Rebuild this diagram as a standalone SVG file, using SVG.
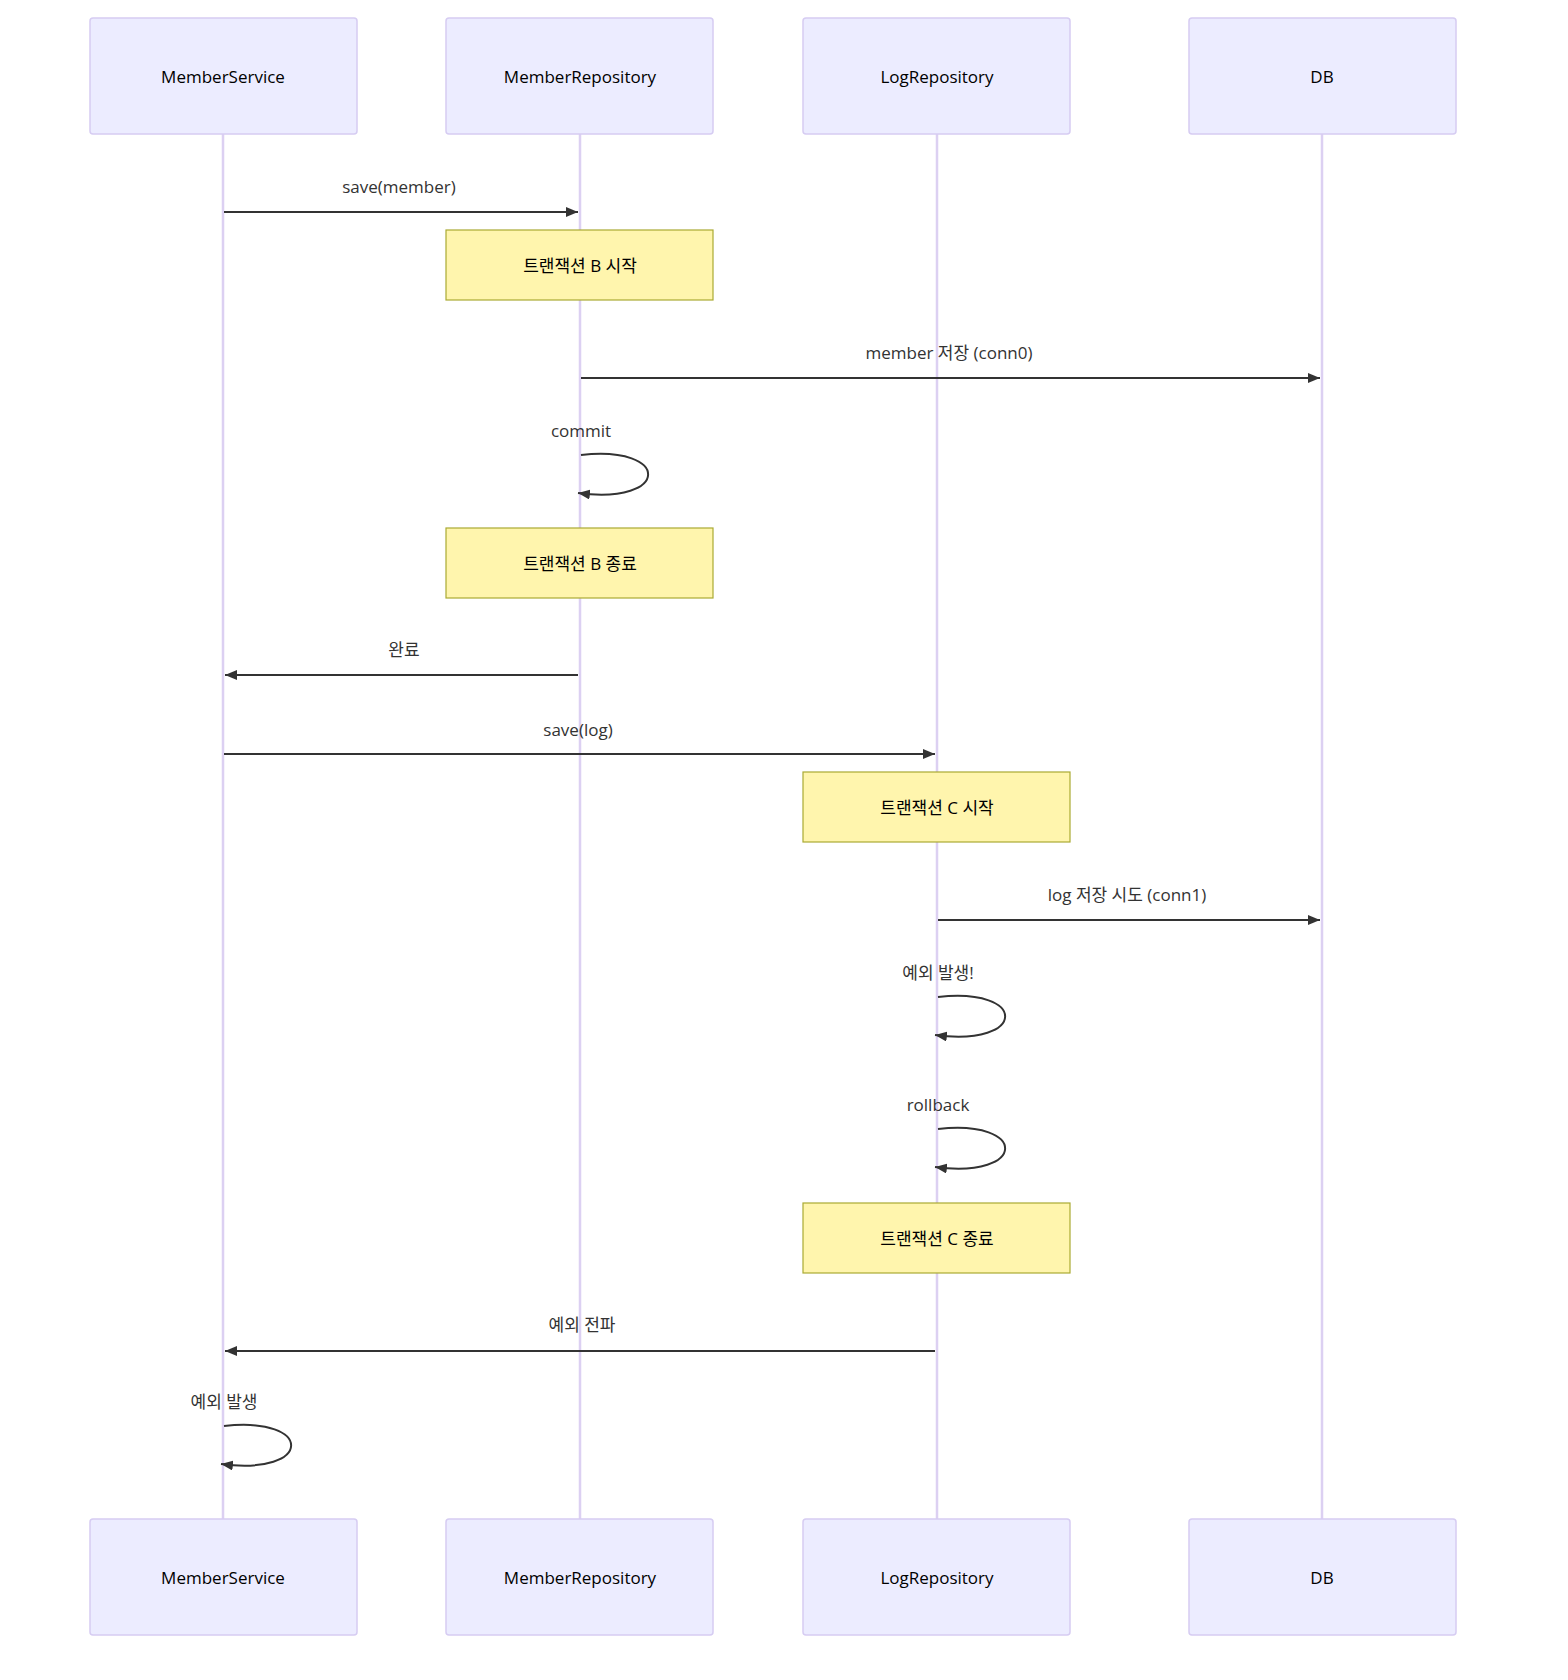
<svg xmlns="http://www.w3.org/2000/svg" width="1568" height="1680" viewBox="0 0 1568 1680">
<style>
.actor{fill:#ECECFF;stroke:#D6CCF2;stroke-width:1.5}
.atext{font-family:"Open Sans","Liberation Sans",sans-serif;font-size:17px;fill:#000;text-anchor:middle;dominant-baseline:central}
.life{stroke:#DCD0F2;stroke-width:2.5}
.msg{stroke:#333;stroke-width:2;fill:none}
.mtext{font-family:"Open Sans","Noto Sans CJK KR",sans-serif;font-size:17px;fill:#333;text-anchor:middle}
.note{fill:#FFF5AD;stroke:#AAAA33;stroke-width:1.2}
.ntext{font-family:"Open Sans","Noto Sans CJK KR",sans-serif;font-size:17px;fill:#000;text-anchor:middle;dominant-baseline:central}
</style>
<defs>
<marker id="ah" viewBox="0 0 12 10" refX="12" refY="5" markerWidth="12" markerHeight="10" orient="auto" markerUnits="userSpaceOnUse"><path d="M0,0 L12,5 L0,10 z" fill="#333"/></marker>
</defs>
<g id="lifelines">
<line class="life" x1="223" y1="133" x2="223" y2="1520"/>
<line class="life" x1="580" y1="133" x2="580" y2="1520"/>
<line class="life" x1="937" y1="133" x2="937" y2="1520"/>
<line class="life" x1="1322" y1="133" x2="1322" y2="1520"/>
</g>
<g id="actor-MemberService-top"><rect class="actor" x="90" y="18" width="267" height="116" rx="3"/><text class="atext" x="223" y="76">MemberService</text></g>
<g id="actor-MemberRepository-top"><rect class="actor" x="446" y="18" width="267" height="116" rx="3"/><text class="atext" x="580" y="76">MemberRepository</text></g>
<g id="actor-LogRepository-top"><rect class="actor" x="803" y="18" width="267" height="116" rx="3"/><text class="atext" x="937" y="76">LogRepository</text></g>
<g id="actor-DB-top"><rect class="actor" x="1189" y="18" width="267" height="116" rx="3"/><text class="atext" x="1322" y="76">DB</text></g>
<g id="actor-MemberService-bottom"><rect class="actor" x="90" y="1519" width="267" height="116" rx="3"/><text class="atext" x="223" y="1577">MemberService</text></g>
<g id="actor-MemberRepository-bottom"><rect class="actor" x="446" y="1519" width="267" height="116" rx="3"/><text class="atext" x="580" y="1577">MemberRepository</text></g>
<g id="actor-LogRepository-bottom"><rect class="actor" x="803" y="1519" width="267" height="116" rx="3"/><text class="atext" x="937" y="1577">LogRepository</text></g>
<g id="actor-DB-bottom"><rect class="actor" x="1189" y="1519" width="267" height="116" rx="3"/><text class="atext" x="1322" y="1577">DB</text></g>
<g id="notes">
<g id="note1"><rect class="note" x="446" y="230" width="267" height="70"/><text class="ntext" x="580" y="265">트랜잭션 B 시작</text></g>
<g id="note2"><rect class="note" x="446" y="528" width="267" height="70"/><text class="ntext" x="580" y="563">트랜잭션 B 종료</text></g>
<g id="note3"><rect class="note" x="803" y="772" width="267" height="70"/><text class="ntext" x="937" y="807">트랜잭션 C 시작</text></g>
<g id="note4"><rect class="note" x="803" y="1203" width="267" height="70"/><text class="ntext" x="937" y="1238">트랜잭션 C 종료</text></g>
</g>
<g id="connectors">
<line class="msg" x1="224" y1="212" x2="578" y2="212" marker-end="url(#ah)"/>
<text class="mtext" x="399" y="193">save(member)</text>
<line class="msg" x1="581" y1="378" x2="1320" y2="378" marker-end="url(#ah)"/>
<text class="mtext" x="949" y="359">member 저장 (conn0)</text>
<path class="msg" d="M581,455 C671,445 671,505 578,493" marker-end="url(#ah)"/>
<text class="mtext" x="581" y="437">commit</text>
<line class="msg" x1="578" y1="675" x2="225" y2="675" marker-end="url(#ah)"/>
<text class="mtext" x="404" y="656">완료</text>
<line class="msg" x1="224" y1="754" x2="935" y2="754" marker-end="url(#ah)"/>
<text class="mtext" x="578" y="736">save(log)</text>
<line class="msg" x1="938" y1="920" x2="1320" y2="920" marker-end="url(#ah)"/>
<text class="mtext" x="1127" y="901">log 저장 시도 (conn1)</text>
<path class="msg" d="M938,997 C1028,987 1028,1047 935,1035" marker-end="url(#ah)"/>
<text class="mtext" x="938" y="979">예외 발생!</text>
<path class="msg" d="M938,1129 C1028,1119 1028,1179 935,1167" marker-end="url(#ah)"/>
<text class="mtext" x="938" y="1111">rollback</text>
<line class="msg" x1="935" y1="1351" x2="225" y2="1351" marker-end="url(#ah)"/>
<text class="mtext" x="582" y="1331">예외 전파</text>
<path class="msg" d="M224,1426 C314,1416 314,1476 221,1464" marker-end="url(#ah)"/>
<text class="mtext" x="224" y="1408">예외 발생</text>
</g>
</svg>
